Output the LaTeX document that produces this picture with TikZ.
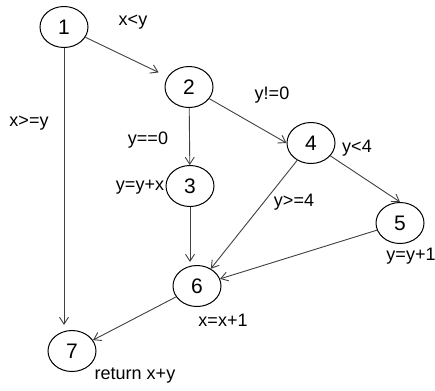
\documentclass[tikz,border=0pt]{standalone}
\usepackage{fontspec}
\setmainfont{Liberation Sans}
\usetikzlibrary{shapes.geometric,arrows.meta}
\begin{document}
\begin{tikzpicture}[x=1bp,y=-1bp,
  vnode/.style={ellipse,draw=black,line width=1bp,minimum width=48bp,minimum height=41bp,inner sep=0pt,font=\fontsize{21bp}{24bp}\selectfont},
  lbl/.style={font=\fontsize{18bp}{21bp}\selectfont,inner sep=0pt},
  edge/.style={draw=black!75,line width=0.9bp,-{Straight Barb[length=7bp,width=9bp]}}]
\useasboundingbox (0,0) rectangle (435,390);
\node[vnode] (1) at (64,27) {1};
\node[vnode] (2) at (189,87) {2};
\node[vnode] (3) at (190,186) {3};
\node[vnode] (4) at (311,143) {4};
\node[vnode] (5) at (400,223) {5};
\node[vnode] (6) at (197,286) {6};
\node[vnode] (7) at (72,351) {7};

\node[lbl] (l12) at (133,22) {x<y};
\node[lbl] (l17) at (29,123) {x>=y};
\node[lbl] (l23) at (148,140) {y==0};
\node[lbl] (l3) at (140,187) {y=y+x};
\node[lbl] (l24) at (272,95) {y!=0};
\node[lbl] (l45) at (357,148) {y<4};
\node[lbl] (l46) at (294,202) {y>=4};
\node[lbl] (l5) at (411,256) {y=y+1};
\node[lbl] (l6) at (223,320) {x=x+1};
\node[lbl] (l7) at (135,376) {return x+y};

\draw[edge,shorten >=10bp] (1) -- (2);
\draw[edge,shorten >=5bp] (1.south) -- (1.south |- 7.north);
\draw[edge] (2) -- (3);
\draw[edge] (2) -- (4.west);
\draw[edge] (4) -- (5.north);
\draw[edge] (4) -- (6);
\draw[edge,shorten >=3bp] (3.south) -- (3.south |- 6.north);
\draw[edge] (5) -- (6);
\draw[edge] (6) -- (7);
\end{tikzpicture}
\end{document}
